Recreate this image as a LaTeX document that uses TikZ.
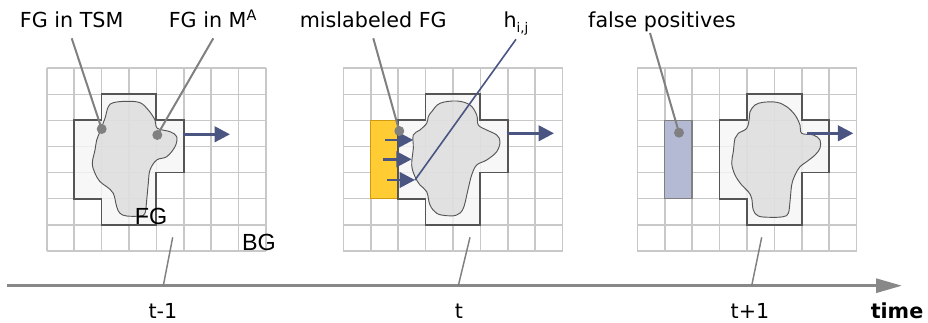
\documentclass[tikz,border=0pt]{standalone}
\usepackage{fontspec}
\setmainfont{DejaVu Sans}
\newfontfamily\arialfont{Liberation Sans}
\usetikzlibrary{arrows.meta}
\definecolor{gridc}{HTML}{C8C8C8}
\definecolor{crossfill}{HTML}{F5F5F5}
\definecolor{crossline}{HTML}{555555}
\definecolor{blobfill}{HTML}{D6D6D6}
\definecolor{navy}{HTML}{4A5582}
\definecolor{leadc}{HTML}{808080}
\definecolor{yel}{HTML}{FFCC33}
\definecolor{yeld}{HTML}{D09A10}
\definecolor{fpfill}{HTML}{B4BAD4}
\definecolor{axisc}{HTML}{888888}
\tikzset{
  gridline/.style={draw=gridc, line width=1.2pt},
  crossshape/.style={fill=crossfill, fill opacity=0.8},
  crossedge/.style={draw=crossline, line width=1.4pt, line join=miter},
  blobshape/.style={fill=blobfill, fill opacity=0.65},
  blobedge/.style={draw=crossline, line width=0.7pt},
  motion/.style={draw=navy, line width=2.2pt, -{Triangle[length=11.5pt,width=11.5pt]}},
  leadline/.style={draw=leadc, line width=1.5pt},
  dotmark/.style={circle, fill=leadc, inner sep=0pt, minimum size=7.5pt},
  lbl/.style={anchor=base, inner sep=0pt, font=\fontsize{15.5pt}{18pt}\selectfont},
  biglbl/.style={anchor=base, inner sep=0pt, font=\arialfont\fontsize{17.5pt}{20pt}\selectfont},
  tickline/.style={draw=leadc, line width=1.1pt},
}
\newcommand{\crosspath}{(2,1) -- (4,1) -- (4,2) -- (5,2) -- (5,4) -- (4,4) -- (4,6) -- (2,6) -- (2,5) -- (1,5) -- (1,2) -- (2,2) -- cycle}
\begin{document}
\begin{tikzpicture}[x=0.75pt,y=-0.75pt]
\useasboundingbox (0,0) rectangle (928,323);
% grids
\foreach \L in {46.7,343.3,637.3} {
  \foreach \i in {0,...,8} \draw[gridline] ({\L+\i*27.4},68.3) -- ({\L+\i*27.4},250.8);
  \foreach \j in {0,...,7} \draw[gridline] (\L,{68.3+\j*26.07}) -- ({\L+219.2},{68.3+\j*26.07});
}
% crosses fill
\foreach \S in {46.7,370.7,692.1} {
  \begin{scope}[shift={(\S,68.3)}, x=20.55pt, y=-19.55pt]
    \fill[crossshape] \crosspath;
  \end{scope}
}
% blobs
\def\blobA{(101.7,126.7) (105,118.3) (108.3,106.7) (113.3,102.7) (126.7,101.3) (140,102.7) (148.3,110) (155,120) (157.3,128.3) (170,131.7) (176.7,136.7) (175,146.7) (166.7,156.7) (156.7,160) (150,170) (148.3,183.3) (146.7,200) (145,213.3) (140,216) (126.7,216) (120,213.3) (116.7,206.7) (113.3,193.3) (106.7,186.7) (100,181.7) (95,173.3) (92.3,163.3) (95,150) (96.7,140) (100,131.7)}
\def\blobB{(431.7,111.7) (440,103.3) (456.7,101) (470,105) (476.7,115) (478.3,125) (486.7,130) (496.7,135) (500,141.7) (496.7,151.7) (486.7,160) (476.7,165) (471.7,175) (468.3,188.3) (463.3,208.3) (456.7,215) (446.7,215.7) (436.7,213.3) (430,205) (426.7,191.7) (420,185) (415,176.7) (411.7,165) (413.3,148.3) (413.3,135) (420,130) (426.7,123.3) (428.3,116.7)}
\def\blobC{(750,111.7) (755,105) (763.3,102.3) (776.7,102.3) (786.7,106.7) (795,115) (800,125) (801.7,133.3) (813.3,135) (820,140) (820,148.3) (815,155) (806.7,161.7) (800,166.7) (795,175) (791.7,185) (790,201.7) (788.3,213.3) (783.3,216.7) (770,217.3) (758.3,216) (753.3,210) (751.7,198.3) (748.3,191.7) (741.7,185) (735,175) (731.7,163.3) (733.3,151.7) (735,138.3) (738.3,133.3) (746.7,128.3) (749.3,118.3)}
\foreach \B in {\blobA,\blobB,\blobC} {
  \fill[blobshape] plot[smooth cycle, tension=0.6] coordinates {\B};
  \draw[blobedge] plot[smooth cycle, tension=0.6] coordinates {\B};
}
% cross outlines
\foreach \S in {46.7,370.7,692.1} {
  \begin{scope}[shift={(\S,68.3)}, x=20.55pt, y=-19.55pt]
    \draw[crossedge] \crosspath;
  \end{scope}
}
% mislabeled (yellow) and false positive (blue) regions
\filldraw[fill=yel, draw=yeld, line width=1.1pt] (370.7,120.4) rectangle (398.1,198.7);
\draw[crossedge] (398.1,120.4) -- (398.1,198.7);
\filldraw[fill=fpfill, draw=leadc, line width=1.1pt] (664.7,120.4) rectangle (692.1,198.7);
% motion arrows
\coordinate (m1s) at (182.7,134.3); \coordinate (m1e) at (230,134.3);
\coordinate (m2s) at (506.7,133.3); \coordinate (m2e) at (554,133.3);
\coordinate (m3s) at (806.7,133.3); \coordinate (m3e) at (853.3,133.3);
\draw[motion] (m1s) -- (m1e);
\draw[motion] (m2s) -- (m2e);
\draw[motion] (m3s) -- (m3e);
\coordinate (a1s) at (385,140); \coordinate (a1e) at (413.3,140);
\coordinate (a2s) at (382.7,159.3); \coordinate (a2e) at (411.7,159.3);
\coordinate (a3s) at (386.7,180); \coordinate (a3e) at (415,180);
\draw[motion] (a1s) -- (a1e);
\draw[motion] (a2s) -- (a2e);
\draw[motion] (a3s) -- (a3e);
% labels
\node[lbl] (lbltsm) at (71.7,27.3) {FG in TSM};
\node[lbl] (lblma) at (213,27.3) {FG in M\textsuperscript{A}};
\node[lbl] (lblmis) at (373.3,27.3) {mislabeled FG};
\node[lbl] (lblh) at (516,27.3) {h\raisebox{-0.45ex}{\fontsize{10pt}{12pt}\selectfont i,j}};
\node[lbl] (lblfp) at (662,27.3) {false positives};
\node[biglbl] (lblfg) at (151,225) {FG};
\node[biglbl] (lblbg) at (259,250.7) {BG};
\node[lbl] (lblt1) at (163,319) {t-1};
\node[lbl] (lblt2) at (459,319) {t};
\node[lbl] (lblt3) at (750,319) {t+1};
\node[lbl, font=\bfseries\fontsize{15.5pt}{18pt}\selectfont] (lbltime) at (897,318.5) {time};
% leader lines and dots
\coordinate (l1) at (71.7,38.3);  \coordinate (d1) at (101.7,129);
\coordinate (l2) at (213.3,38.3); \coordinate (d2) at (157.3,135);
\coordinate (l3) at (373.3,38.3); \coordinate (d3) at (399.3,131);
\coordinate (l5) at (650,33);     \coordinate (d5) at (679,132.7);
\draw[leadline] (l1) -- (d1);
\draw[leadline] (l2) -- (d2);
\draw[leadline] (l3) -- (d3);
\draw[leadline] (l5) -- (d5);
\node[dotmark] (dot1) at (d1) {};
\node[dotmark] (dot2) at (d2) {};
\node[dotmark] (dot3) at (d3) {};
\node[dotmark] (dot5) at (d5) {};
\coordinate (l4) at (516,39.3);
\draw[draw=navy, line width=1.2pt] (l4) -- (a3e);
% time axis
\coordinate (ax0) at (7,285.7); \coordinate (ax1) at (902,285.7);
\draw[draw=axisc, line width=2.2pt, -{Triangle[length=19.5pt,width=10.5pt]}] (ax0) -- (ax1);
\coordinate (t1a) at (163.3,285.7); \coordinate (t1b) at (172.7,237.3);
\coordinate (t2a) at (458.3,285.7); \coordinate (t2b) at (470,237.3);
\coordinate (t3a) at (751.7,285.7); \coordinate (t3b) at (761.7,237.3);
\draw[tickline] (t1a) -- (t1b);
\draw[tickline] (t2a) -- (t2b);
\draw[tickline] (t3a) -- (t3b);
\end{tikzpicture}
\end{document}
